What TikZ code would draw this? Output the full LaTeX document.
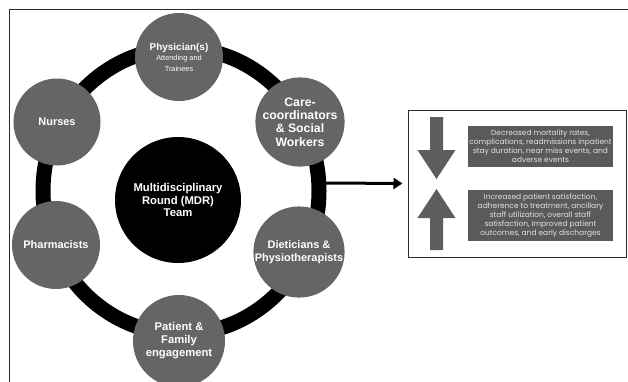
\documentclass[tikz,border=0pt]{standalone}
\usepackage{fontspec}
\setmainfont{Liberation Sans}
\newfontfamily\panelfont{Poppins}
\usetikzlibrary{arrows.meta}
\definecolor{memberfill}{HTML}{656565}
\definecolor{panelfill}{HTML}{5A5A5A}
\definecolor{trendfill}{HTML}{5E5E5E}
\definecolor{paneltext}{HTML}{E2E2E2}
\definecolor{framecol}{HTML}{2A2A2A}
\begin{document}
\begin{tikzpicture}[x=1bp,y=-1bp,
  member/.style={circle,fill=memberfill,text=white,align=center,inner sep=0pt,
    minimum size=#1,font=\bfseries\fontsize{11}{13}\selectfont},
  member/.default=87bp,
  core/.style={circle,fill=black,text=white,align=center,inner sep=0pt,
    minimum size=126bp,font=\bfseries\fontsize{11.3}{13}\selectfont},
  outcome/.style={fill=panelfill,text=paneltext,align=center,inner sep=0pt,
    minimum width=145bp,font=\panelfont\fontsize{7.5}{9}\selectfont},
  trend/.style={fill=trendfill}]
\useasboundingbox (0,0) rectangle (628,381);
\clip (0,0) rectangle (628,381);
\fill[white] (0,0) rectangle (628,381);

% outer frame
\draw[framecol,line width=1.5bp] (640,9.5) -- (9.5,9.5) -- (9.5,400);

% ring linking the team members
\draw[black,line width=15bp] (181,191) ellipse [x radius=138, y radius=143];
\coordinate (ringE) at (326,183);

% team members around the ring
\node[member=88bp,font=\bfseries\fontsize{10}{11}\selectfont] (phys) at (179,57)
  {Physician(s)\\[-1pt]{\mdseries\fontsize{7.4}{9}\selectfont Attending and}\\
   {\mdseries\fontsize{7.4}{9}\selectfont Trainees}};
\node[member,font=\bfseries\fontsize{12.3}{13.3}\selectfont] (care) at (300,122)
  {Care-\\coordinators\\\&\ Social\\Workers};
\node[member] (diet) at (299,252) {Dieticians \&\\Physiotherapists};
\node[member=92bp,font=\bfseries\fontsize{11.3}{13}\selectfont] (pat) at (179,341)
  {Patient \&\\Family\\engagement};
\node[member=88bp] (pharm) at (56,245) {Pharmacists};
\node[member] (nurse) at (57,122) {Nurses};

% central team
\node[core] (mdr) at (178,200) {Multidisciplinary\\Round (MDR)\\Team};

% outcomes panel
\node[draw=framecol,line width=1bp,minimum width=218bp,minimum height=147bp,inner sep=0pt]
  (panel) at (517,183.5) {};
\draw[black,line width=3bp,-{Triangle[length=9bp,width=11bp]},shorten >=5bp]
  (ringE) -- (panel.west);

% trend arrows
\fill[trend] (430,117) -- (443,117) -- (443,150) -- (455.5,150) -- (436.5,179)
  -- (417.5,150) -- (430,150) -- cycle;
\fill[trend] (430,250) -- (443,250) -- (443,218) -- (455.5,218) -- (436.5,189)
  -- (417.5,218) -- (430,218) -- cycle;

\node[outcome,minimum height=41bp] (down) at (540.5,146.5)
  {Decreased mortality rates,\\complications, readmissions inpatient\\stay duration, near miss events, and\\adverse events};
\node[outcome,minimum height=51bp] (up) at (540.5,215.5)
  {Increased patient satisfaction,\\adherence to treatment, ancillary\\staff utilization, overall staff\\satisfaction, improved patient\\outcomes, and early discharges};
\end{tikzpicture}
\end{document}
